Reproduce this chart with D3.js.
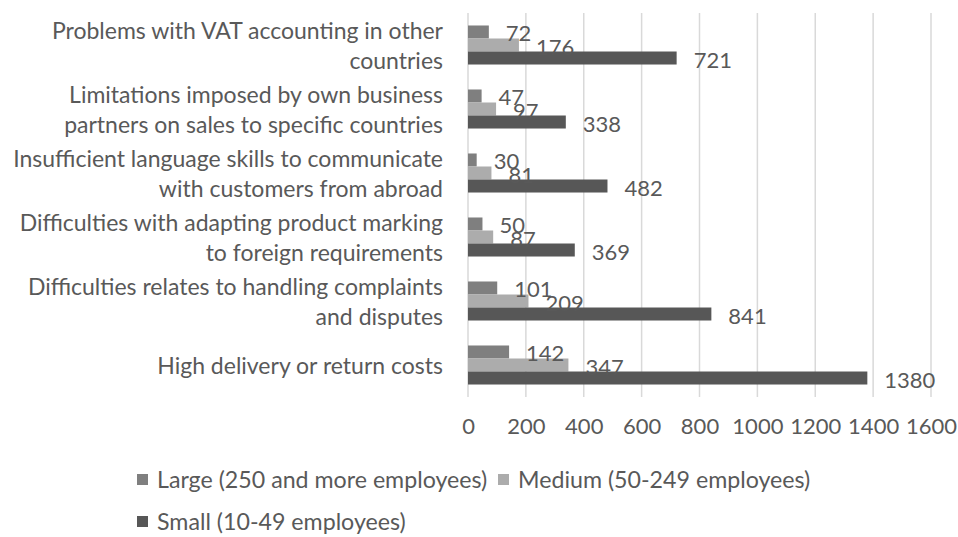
<!DOCTYPE html>
<html>
<head>
<meta charset="utf-8">
<script src="https://cdn.jsdelivr.net/npm/d3@7/dist/d3.min.js"></script>
<style>
  html, body { margin: 0; padding: 0; background: #fff; }
  svg { display: block; }
  text { font-family: Lato, "Open Sans", sans-serif; fill: #595959; }
</style>
</head>
<body>
<svg id="chart" width="958" height="537"></svg>
<script>
// Category labels, one array of wrapped lines per category (top to bottom)
const categories = [
  ["Problems with VAT accounting in other", "countries"],
  ["Limitations imposed by own business", "partners on sales to specific countries"],
  ["Insufficient language skills to communicate", "with customers from abroad"],
  ["Difficulties with adapting product marking", "to foreign requirements"],
  ["Difficulties relates to handling complaints", "and disputes"],
  ["High delivery or return costs"]
];
const seriesNames = ["Large (250 and more employees)", "Medium (50-249 employees)", "Small (10-49 employees)"];
const largeValues  = [72, 47, 30, 50, 101, 142];
const mediumValues = [176, 97, 81, 87, 209, 347];
const smallValues  = [721, 338, 482, 369, 841, 1380];
const tickValues = [0, 200, 400, 600, 800, 1000, 1200, 1400, 1600];

const seriesColors = ["#7f7f7f", "#acacac", "#575757"];
const seriesValues = [largeValues, mediumValues, smallValues];

const svg = d3.select("#chart");
const plot = { left: 468, right: 931, top: 13, bottom: 397 };

const x = d3.scaleLinear().domain([0, 1600]).range([plot.left, plot.right]);
const y0 = d3.scaleBand().domain(d3.range(categories.length)).range([plot.top, plot.bottom]).padding(0);
const y1 = d3.scaleBand().domain(d3.range(seriesNames.length)).range([0, y0.bandwidth()])
  .paddingInner(0).paddingOuter(0.96);

// Vertical gridlines
svg.append("g").selectAll("line").data(tickValues).join("line")
  .attr("x1", d => x(d)).attr("x2", d => x(d))
  .attr("y1", plot.top).attr("y2", plot.bottom)
  .attr("stroke", "#d9d9d9").attr("stroke-width", 1.5);

// Value axis tick labels
const axis = d3.axisBottom(x).tickValues(tickValues).tickFormat(d3.format("d"))
  .tickSize(0).tickPadding(0);
const axisG = svg.append("g").attr("transform", `translate(0,${plot.bottom})`).call(axis);
axisG.select(".domain").remove();
axisG.selectAll("text")
  .attr("dy", null).attr("y", 28).attr("dominant-baseline", "central")
  .style("font-size", "22px").style("font-family", "Lato, sans-serif").attr("fill", "#595959");

// Bars and value labels
const groups = svg.append("g").selectAll("g").data(categories).join("g")
  .attr("transform", (d, i) => `translate(0,${y0(i)})`);

groups.each(function (d, ci) {
  const g = d3.select(this);
  const rows = seriesValues.map((vals, si) => ({ si, v: vals[ci] }));
  g.selectAll("rect").data(rows).join("rect")
    .attr("x", x(0)).attr("y", r => y1(r.si))
    .attr("width", r => x(r.v) - x(0)).attr("height", y1.bandwidth())
    .attr("fill", r => seriesColors[r.si]);
  g.selectAll("text.val").data(rows).join("text").attr("class", "val")
    .attr("x", r => x(r.v) + 17).attr("y", r => y1(r.si) + y1.bandwidth() / 2 + 1)
    .attr("dominant-baseline", "central")
    .style("font-size", "22px")
    .text(r => r.v);
});

// Category labels, right aligned and vertically centred in each band
const catG = svg.append("g");
categories.forEach((lines, i) => {
  const cy = y0(i) + y0.bandwidth() / 2;
  const lh = 30;
  const t = catG.append("text").attr("text-anchor", "end").style("font-size", "23px");
  lines.forEach((ln, k) => {
    t.append("tspan").attr("x", 443)
      .attr("y", cy + (k - (lines.length - 1) / 2) * lh)
      .attr("dominant-baseline", "central")
      .text(ln);
  });
});

// Legend
const legendItems = [
  { si: 0, x: 137, y: 479 },
  { si: 1, x: 498, y: 479 },
  { si: 2, x: 137, y: 521 }
];
const lg = svg.append("g").selectAll("g").data(legendItems).join("g")
  .attr("transform", d => `translate(${d.x},${d.y})`);
lg.append("rect").attr("x", 0).attr("y", -5).attr("width", 11).attr("height", 11)
  .attr("fill", d => seriesColors[d.si]);
lg.append("text").attr("x", 20).attr("y", 0).attr("dominant-baseline", "central")
  .style("font-size", "23.2px").text(d => seriesNames[d.si]);
</script>
</body>
</html>
